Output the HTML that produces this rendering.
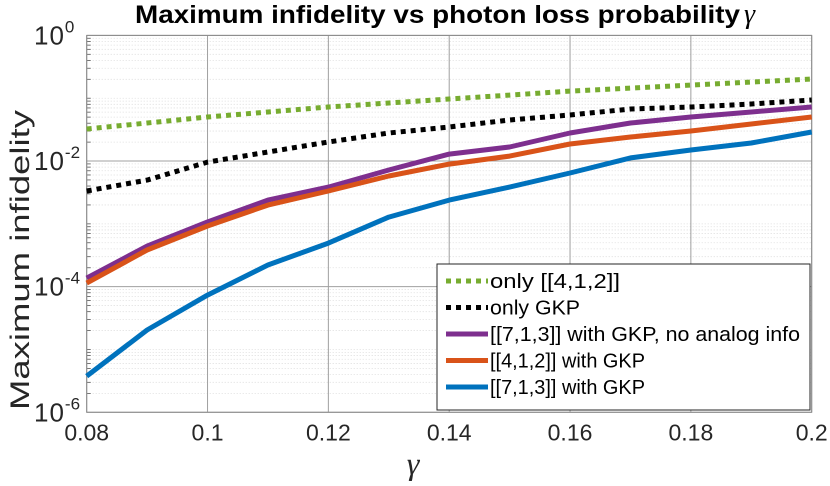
<!DOCTYPE html>
<html><head><meta charset="utf-8">
<style>
body{margin:0;background:#fff;}
svg{display:block;font-family:"Liberation Sans",sans-serif;}
</style></head>
<body>
<svg id="chart" width="830" height="486" viewBox="0 0 830 486">
</svg>
<script>
const gammas=[0.08,0.09,0.10,0.11,0.12,0.13,0.14,0.15,0.16,0.17,0.18,0.19,0.20];
const only412=[3.24e-2,4.03e-2,5.02e-2,6.03e-2,7.24e-2,8.39e-2,9.71e-2,0.112,0.130,0.145,0.162,0.181,0.202];
const onlyGKP=[3.33e-3,4.98e-3,9.6e-3,1.39e-2,2.01e-2,2.79e-2,3.48e-2,4.50e-2,5.40e-2,6.73e-2,7.24e-2,8.09e-2,9.36e-2];
const s713noAnalog=[1.37e-4,4.43e-4,1.07e-3,2.39e-3,3.85e-3,7.19e-3,1.29e-2,1.67e-2,2.79e-2,4.03e-2,5.02e-2,6.03e-2,7.24e-2];
const s412GKP=[1.14e-4,3.83e-4,9.23e-4,1.99e-3,3.33e-3,5.77e-3,8.95e-3,1.20e-2,1.87e-2,2.41e-2,3.01e-2,3.88e-2,5.02e-2];
const s713GKP=[3.77e-6,2.04e-5,7.35e-5,2.21e-4,4.94e-4,1.28e-3,2.39e-3,3.85e-3,6.44e-3,1.12e-2,1.50e-2,1.94e-2,2.90e-2];
const xTicks=[0.08,0.1,0.12,0.14,0.16,0.18,0.2];
const xTickLabels=["0.08","0.1","0.12","0.14","0.16","0.18","0.2"];
const yTickExps=[0,-2,-4,-6];
const legendLabels=["only [[4,1,2]]","only GKP","[[7,1,3]] with GKP, no analog info","[[4,1,2]] with GKP","[[7,1,3]] with GKP"];
const legendWidths=[130,90,310,155,155];

const L=86.7,R=811.7,T=35.4,B=412.3;
const xs=g=>L+(g-0.08)/(0.12)*(R-L);
const ys=v=>T+(-Math.log10(v))/6*(B-T);
const svg=document.getElementById('chart');
const NS='http://www.w3.org/2000/svg';
function mk(tag,at,parent){const e=document.createElementNS(NS,tag);for(const k in at)e.setAttribute(k,at[k]);(parent||svg).appendChild(e);return e;}

for(let d=0;d>-6;d--){for(let k=1;k<=9;k++){const v=k*Math.pow(10,d-1);const y=ys(v);if(k===1&&(d-1)%2===0)continue;
const ln=mk('line',{x1:L,x2:R,y1:y,y2:y,stroke:'#d8d8d8','stroke-width':0.8,'stroke-dasharray':'1,2'});


const tk=mk('line',{x1:L,x2:L+4,y1:y,y2:y,stroke:'#555','stroke-width':0.8});

}}
yTickExps.forEach(e=>{const y=ys(Math.pow(10,e));
const ln=mk('line',{x1:L,x2:R,y1:y,y2:y,stroke:'#a0a0a0','stroke-width':1});


const t=mk('text',{x:34,y:y+9,'font-size':26,fill:'#262626','letter-spacing':1});


const b=mk('tspan',{},t);b.textContent='10';
const s=mk('tspan',{dy:-12,'font-size':17,'letter-spacing':0},t);s.textContent=String(e);});
xTicks.forEach((g,i)=>{const x=xs(g);
const ln=mk('line',{x1:x,x2:x,y1:T,y2:B,stroke:'#a0a0a0','stroke-width':1});


const t=mk('text',{x:x,y:B+28,'text-anchor':'middle','font-size':23,fill:'#262626'});


t.textContent=xTickLabels[i];});
const box=mk('rect',{x:L,y:T,width:R-L,height:B-T,fill:'none',stroke:'#8a8a8a','stroke-width':1});



const series=[
 {d:only412,c:'#77ac30',dash:'5,5',name:'series-only-412'},
 {d:onlyGKP,c:'#000000',dash:'5,5',name:'series-only-gkp'},
 {d:s713noAnalog,c:'#7e2f8e',dash:'',name:'series-713-no-analog'},
 {d:s412GKP,c:'#d95319',dash:'',name:'series-412-gkp'},
 {d:s713GKP,c:'#0072bd',dash:'',name:'series-713-gkp'}];
series.forEach(s=>{const p=s.d.map((v,i)=>xs(gammas[i]).toFixed(1)+','+ys(v).toFixed(1)).join(' ');
const pl=mk('polyline',{points:p,fill:'none',stroke:s.c,'stroke-width':5,'stroke-dasharray':s.dash,'stroke-linejoin':'round'});

});

const lg=mk('g',{});


mk('rect',{x:437,y:264,width:373,height:146,fill:'#fff',stroke:'#262626','stroke-width':1},lg);
series.forEach((s,i)=>{const y=281+i*26.5;
mk('line',{x1:446,x2:488,y1:y,y2:y,stroke:s.c,'stroke-width':5,'stroke-dasharray':s.dash},lg);
const t=mk('text',{x:490,y:y+7,'font-size':20,fill:'#000',textLength:legendWidths[i],lengthAdjust:'spacingAndGlyphs'},lg);


t.textContent=legendLabels[i];});

const title=mk('text',{x:135,y:23,'font-size':25,'font-weight':'bold',fill:'#000'});


const tt=mk('tspan',{textLength:605,lengthAdjust:'spacingAndGlyphs'},title);tt.textContent='Maximum infidelity vs photon loss probability';
const tg=mk('tspan',{'font-family':'Liberation Serif,serif','font-style':'italic','font-weight':'normal','font-size':28,dx:4},title);tg.textContent='γ';
const yl=mk('text',{transform:'translate(29,260) rotate(-90)','text-anchor':'middle','font-size':27,fill:'#262626',textLength:300,lengthAdjust:'spacingAndGlyphs'});


yl.textContent='Maximum infidelity';
const xl=mk('text',{x:413,y:474,'text-anchor':'middle','font-size':32,'font-style':'italic','font-family':'Liberation Serif,serif',fill:'#262626'});


xl.textContent='γ';
</script>
</body></html>
